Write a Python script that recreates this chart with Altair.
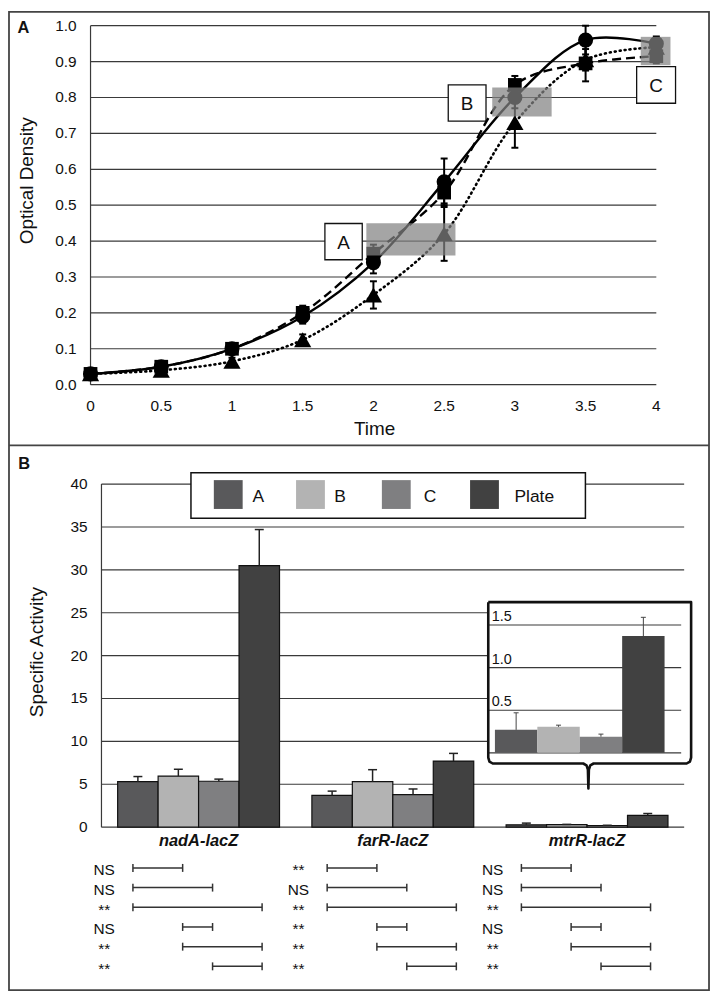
import altair as alt
import pandas as pd

FONT = "Liberation Sans"

# ---------------- Panel A data ----------------
times = [0, 0.5, 1, 1.5, 2, 2.5, 3, 3.5, 4]
series_a = ["Culture 1", "Culture 2", "Culture 3"]
od_1 = [0.03, 0.05, 0.10, 0.19, 0.34, 0.565, 0.80, 0.96, 0.95]
err_1 = [0.005, 0.01, 0.012, 0.02, 0.03, 0.065, 0.03, 0.04, 0.02]
od_2 = [0.03, 0.05, 0.10, 0.20, 0.365, 0.535, 0.835, 0.895, 0.915]
err_2 = [0.005, 0.01, 0.012, 0.02, 0.025, 0.03, 0.025, 0.05, 0.02]
od_3 = [0.03, 0.04, 0.065, 0.125, 0.25, 0.42, 0.73, 0.905, 0.94]
err_3 = [0.005, 0.006, 0.01, 0.015, 0.038, 0.075, 0.07, 0.03, 0.02]

window_names = ["A", "B", "C"]
window_start = [1.95, 2.84, 3.89]
window_end = [2.58, 3.26, 4.10]
window_low = [0.36, 0.747, 0.89]
window_high = [0.45, 0.828, 0.969]

y_ticks_a = [0.0, 0.1, 0.2, 0.3, 0.4, 0.5, 0.6, 0.7, 0.8, 0.9, 1.0]
y_labels_a = ["0.0", "0.1", "0.2", "0.3", "0.4", "0.5", "0.6", "0.7", "0.8", "0.9", "1.0"]
x_ticks_a = [0, 0.5, 1, 1.5, 2, 2.5, 3, 3.5, 4]
x_labels_a = ["0", "0.5", "1", "1.5", "2", "2.5", "3", "3.5", "4"]

# ---------------- Panel B data ----------------
genes = ["nadA-lacZ", "farR-lacZ", "mtrR-lacZ"]
conditions = ["A", "B", "C", "Plate"]
act_A = [5.3, 3.7, 0.27]
err_A = [0.6, 0.5, 0.2]
act_B = [5.95, 5.3, 0.305]
err_B = [0.8, 1.4, 0.02]
act_C = [5.35, 3.8, 0.19]
err_C = [0.25, 0.65, 0.03]
act_P = [30.5, 7.7, 1.37]
err_P = [4.2, 0.9, 0.22]
cond_colors = ["#59595b", "#b3b3b3", "#7f7f81", "#414141"]

y_ticks_b = [0, 5, 10, 15, 20, 25, 30, 35, 40]
inset_ticks = [0, 0.5, 1.0, 1.5]
inset_labels = ["", "0.5", "1.0", "1.5"]

comparisons = [("A", "B"), ("A", "C"), ("A", "Plate"), ("B", "C"), ("B", "Plate"), ("C", "Plate")]
sig_nadA = ["NS", "NS", "**", "NS", "**", "**"]
sig_farR = ["**", "NS", "**", "**", "**", "**"]
sig_mtrR = ["NS", "NS", "**", "NS", "**", "**"]

# ---------------- layout (pixels) ----------------
W, H = 707, 987
A_X = [83, 652]
A_Y = [376, 15]
B_X = [94, 680]
B_Y = [821, 476]
IN_X = [489.7, 660.3]
IN_Y = [746.3, 617.7]
IN_FRAME = (483, 687, 594.7, 757)
ROW_Y = [862, 961]
bracket_offset = {"A": 0.162, "B": 0.418, "C": 0.572, "Plate": 0.827}
label_boxes = {"A": (1.657, 1.921, 0.348, 0.449),
               "B": (2.529, 2.796, 0.734, 0.835),
               "C": (3.861, 4.136, 0.784, 0.886)}

xA = alt.Scale(domain=[0, 4], range=A_X, nice=False, zero=False)
yA = alt.Scale(domain=[0, 1], range=A_Y, nice=False, zero=False)
xBu = alt.Scale(domain=[0, 3], range=B_X, nice=False, zero=False)
yB = alt.Scale(domain=[0, 40], range=B_Y, nice=False, zero=False)
xBand = alt.Scale(domain=genes, range=B_X, paddingInner=0, paddingOuter=0)
xOff = alt.Scale(domain=conditions, paddingInner=0, paddingOuter=0.4)
xIn = alt.Scale(domain=conditions, range=IN_X, paddingInner=0, paddingOuter=0)
yIn = alt.Scale(domain=[0, 1.5], range=IN_Y, nice=False, zero=False)
yRow = alt.Scale(domain=[1, 6], range=ROW_Y, nice=False, zero=False)
cScale = alt.Scale(domain=conditions, range=cond_colors)


def px(field):
    return alt.X(field, scale=None, axis=None)


def py(field):
    return alt.Y(field, scale=None, axis=None)


layers = []

# ================= Panel A =================
gridA = pd.DataFrame({"v": y_ticks_a, "x0": 0, "x1": 4})
layers.append(alt.Chart(gridA).mark_rule(color="#3a3a3a", strokeWidth=1.2).encode(
    x=alt.X("x0:Q", scale=xA, axis=None), x2="x1:Q",
    y=alt.Y("v:Q", scale=yA, axis=None)))
layers.append(alt.Chart(pd.DataFrame({"x": [0], "y0": [0], "y1": [1]})).mark_rule(
    color="#3a3a3a", strokeWidth=1.2).encode(
    x=alt.X("x:Q", scale=xA, axis=None), y=alt.Y("y0:Q", scale=yA, axis=None), y2="y1:Q"))
ylabA = pd.DataFrame({"v": y_ticks_a, "label": y_labels_a, "x": 0})
layers.append(alt.Chart(ylabA).mark_text(font=FONT, fontSize=15.5, align="right", baseline="middle",
                                         dx=-14, color="#111").encode(
    x=alt.X("x:Q", scale=xA, axis=None), y=alt.Y("v:Q", scale=yA, axis=None), text="label:N"))
xlabA = pd.DataFrame({"t": x_ticks_a, "label": x_labels_a})
layers.append(alt.Chart(xlabA).mark_text(font=FONT, fontSize=15.5, align="center", baseline="middle",
                                         color="#111").encode(
    x=alt.X("t:Q", scale=xA, axis=None), y=alt.value(397), text="label:N"))

# label boxes
lb = pd.DataFrame({"name": list(label_boxes.keys()),
                   "t0": [v[0] for v in label_boxes.values()],
                   "t1": [v[1] for v in label_boxes.values()],
                   "o0": [v[2] for v in label_boxes.values()],
                   "o1": [v[3] for v in label_boxes.values()]})
lb["tm"] = (lb.t0 + lb.t1) / 2
lb["om"] = (lb.o0 + lb.o1) / 2
layers.append(alt.Chart(lb).mark_rect(fill="white", stroke="#111", strokeWidth=1.3).encode(
    x=alt.X("t0:Q", scale=xA, axis=None), x2="t1:Q",
    y=alt.Y("o0:Q", scale=yA, axis=None), y2="o1:Q"))
layers.append(alt.Chart(lb).mark_text(font=FONT, fontSize=19, baseline="middle", align="center",
                                      color="#111", dy=1).encode(
    x=alt.X("tm:Q", scale=xA, axis=None), y=alt.Y("om:Q", scale=yA, axis=None), text="name:N"))

rows = []
for name, ods, errs in zip(series_a, [od_1, od_2, od_3], [err_1, err_2, err_3]):
    for t, v, e in zip(times, ods, errs):
        rows.append(dict(series=name, t=t, od=v, lo=v - e, hi=v + e))
dfA = pd.DataFrame(rows)

line_styles = {"Culture 1": dict(strokeWidth=2.4),
               "Culture 2": dict(strokeWidth=2.4, strokeDash=[9, 5]),
               "Culture 3": dict(strokeWidth=2.6, strokeDash=[1, 4], strokeCap="round")}
for s in series_a:
    layers.append(alt.Chart(dfA[dfA.series == s]).mark_line(
        interpolate="catmull-rom", color="black", **line_styles[s]).encode(
        x=alt.X("t:Q", scale=xA, axis=None), y=alt.Y("od:Q", scale=yA, axis=None)))

layers.append(alt.Chart(dfA).mark_rule(color="black", strokeWidth=2).encode(
    x=alt.X("t:Q", scale=xA, axis=None), y=alt.Y("lo:Q", scale=yA, axis=None), y2="hi:Q"))
for f in ["lo", "hi"]:
    layers.append(alt.Chart(dfA).mark_point(shape="M-1,0H1", size=49, filled=False, stroke="black",
                                            strokeWidth=2, opacity=1).encode(
        x=alt.X("t:Q", scale=xA, axis=None), y=alt.Y(f + ":Q", scale=yA, axis=None)))

shapes = {"Culture 3": ("triangle-up", 300), "Culture 2": ("square", 190), "Culture 1": ("circle", 230)}
for s in ["Culture 3", "Culture 2", "Culture 1"]:
    shp, sz = shapes[s]
    layers.append(alt.Chart(dfA[dfA.series == s]).mark_point(
        shape=shp, size=sz, filled=True, color="black", opacity=1).encode(
        x=alt.X("t:Q", scale=xA, axis=None), y=alt.Y("od:Q", scale=yA, axis=None)))

win = pd.DataFrame({"name": window_names, "t0": window_start, "t1": window_end,
                    "o0": window_low, "o1": window_high})
layers.append(alt.Chart(win).mark_rect(color="#828282", opacity=0.72).encode(
    x=alt.X("t0:Q", scale=xA, axis=None), x2="t1:Q",
    y=alt.Y("o0:Q", scale=yA, axis=None), y2="o1:Q"))

# ================= Panel B =================
gridB = pd.DataFrame({"v": y_ticks_b, "x0": 0, "x1": 3})
layers.append(alt.Chart(gridB).mark_rule(color="#3a3a3a", strokeWidth=1.2).encode(
    x=alt.X("x0:Q", scale=xBu, axis=None), x2="x1:Q",
    y=alt.Y("v:Q", scale=yB, axis=None)))
layers.append(alt.Chart(pd.DataFrame({"x": [0], "y0": [0], "y1": [40]})).mark_rule(
    color="#3a3a3a", strokeWidth=1.2).encode(
    x=alt.X("x:Q", scale=xBu, axis=None), y=alt.Y("y0:Q", scale=yB, axis=None), y2="y1:Q"))
layers.append(alt.Chart(gridB.assign(label=[str(v) for v in y_ticks_b])).mark_text(
    font=FONT, fontSize=15.5, align="right", baseline="middle", dx=-14, color="#111").encode(
    x=alt.X("x0:Q", scale=xBu, axis=None), y=alt.Y("v:Q", scale=yB, axis=None), text="label:N"))

# legend (pixel layout)
leg_sq_x = [207, 289.7, 376, 464.7]
leg_lab_x = [246, 328, 418, 509.3]
leg = pd.DataFrame({"cond": conditions, "x0": leg_sq_x, "x1": [v + 29 for v in leg_sq_x],
                    "lx": leg_lab_x, "y0": 472, "y1": 501, "ly": 489})
layers.append(alt.Chart(pd.DataFrame({"x0": [184], "x1": [580.7], "y0": [464.7], "y1": [510.3]})).mark_rect(
    fill="white", stroke="#111", strokeWidth=1.5).encode(
    x=px("x0:Q"), x2="x1:Q", y=py("y0:Q"), y2="y1:Q"))
layers.append(alt.Chart(leg).mark_rect().encode(
    x=px("x0:Q"), x2="x1:Q", y=py("y0:Q"), y2="y1:Q",
    color=alt.Color("cond:N", scale=cScale, legend=None)))
layers.append(alt.Chart(leg).mark_text(font=FONT, fontSize=17.5, align="left", baseline="middle",
                                       color="#111").encode(
    x=px("lx:Q"), y=py("ly:Q"), text="cond:N"))

# inset background
fx0, fx1, fy0, fy1 = IN_FRAME
layers.append(alt.Chart(pd.DataFrame({"x0": [fx0], "x1": [fx1], "y0": [fy0], "y1": [fy1]})).mark_rect(
    fill="white").encode(x=px("x0:Q"), x2="x1:Q", y=py("y0:Q"), y2="y1:Q"))

# main bars
bars_rows = []
for cond, vals, errs in zip(conditions, [act_A, act_B, act_C, act_P], [err_A, err_B, err_C, err_P]):
    for g, v, e in zip(genes, vals, errs):
        bars_rows.append(dict(gene=g, cond=cond, value=v, hi=v + e))
dfB = pd.DataFrame(bars_rows)

enc_x = alt.X("gene:N", scale=xBand, axis=None)
enc_xo = alt.XOffset("cond:N", scale=xOff)
bar_layer = alt.layer(
    alt.Chart(dfB).mark_bar(stroke="#111", strokeWidth=1.2).encode(
        x=enc_x, xOffset=enc_xo, y=alt.Y("value:Q", scale=yB, axis=None),
        color=alt.Color("cond:N", scale=cScale, legend=None)),
    alt.Chart(dfB).mark_rule(color="#222", strokeWidth=1.5).encode(
        x=enc_x, xOffset=enc_xo, y=alt.Y("value:Q", scale=yB, axis=None), y2="hi:Q"),
    alt.Chart(dfB).mark_point(shape="M-1,0H1", size=81, filled=False, stroke="#222",
                              strokeWidth=1.5, opacity=1).encode(
        x=enc_x, xOffset=enc_xo, y=alt.Y("hi:Q", scale=yB, axis=None)),
    alt.Chart(pd.DataFrame({"gene": genes})).mark_text(
        font=FONT, fontSize=16.5, fontWeight="bold", fontStyle="italic", baseline="middle",
        color="#111").encode(x=enc_x, y=alt.value(835), text="gene:N"),
)
layers.append(bar_layer)

# inset
dfIn = dfB[dfB.gene == "mtrR-lacZ"]
gridIn = pd.DataFrame({"v": inset_ticks, "label": inset_labels})
layers.append(alt.Chart(gridIn).mark_rule(color="#3a3a3a", strokeWidth=1.1).encode(
    x=alt.value(fx0), x2=alt.value(677), y=alt.Y("v:Q", scale=yIn, axis=None)))
layers.append(alt.Chart(gridIn).mark_text(font=FONT, fontSize=14.5, align="left", baseline="bottom",
                                          dy=-1, color="#111").encode(
    x=alt.value(fx0 + 3.5), y=alt.Y("v:Q", scale=yIn, axis=None), text="label:N"))
inset_layer = alt.layer(
    alt.Chart(dfIn).mark_bar().encode(
        x=alt.X("cond:N", scale=xIn, axis=None), y=alt.Y("value:Q", scale=yIn, axis=None),
        color=alt.Color("cond:N", scale=cScale, legend=None)),
    alt.Chart(dfIn).mark_rule(color="#444", strokeWidth=1).encode(
        x=alt.X("cond:N", scale=xIn, axis=None), y=alt.Y("value:Q", scale=yIn, axis=None), y2="hi:Q"),
    alt.Chart(dfIn).mark_point(shape="M-1,0H1", size=25, filled=False, stroke="#444",
                               strokeWidth=1, opacity=1).encode(
        x=alt.X("cond:N", scale=xIn, axis=None), y=alt.Y("hi:Q", scale=yIn, axis=None)),
)
layers.append(inset_layer)

# inset frame with brace (pixel layout)
tipx, tipy = 583.7, 782
frame_pts = [(fx0, fy0), (fx0, fy1 - 6), (fx0 + 1.2, fy1 - 2), (fx0 + 4.5, fy1),
             (tipx - 5.2, fy1), (tipx - 1.9, fy1 + 1.8), (tipx - 0.5, fy1 + 6), (tipx, tipy),
             (tipx + 0.5, fy1 + 6), (tipx + 1.9, fy1 + 1.8), (tipx + 5.2, fy1),
             (fx1 - 4.5, fy1), (fx1 - 1.2, fy1 - 2), (fx1, fy1 - 6), (fx1, fy0), (fx0, fy0)]
frame_df = pd.DataFrame({"i": range(len(frame_pts)), "x": [p[0] for p in frame_pts],
                         "y": [p[1] for p in frame_pts]})
layers.append(alt.Chart(frame_df).mark_line(color="#111", strokeWidth=2.6, strokeJoin="round").encode(
    x=px("x:Q"), y=py("y:Q"), order="i:Q"))

# significance brackets
sig_all = {"nadA-lacZ": sig_nadA, "farR-lacZ": sig_farR, "mtrR-lacZ": sig_mtrR}
br_rows, cap_rows = [], []
for gi, g in enumerate(genes):
    for k, (c1, c2) in enumerate(comparisons):
        x0 = gi + bracket_offset[c1]
        x1 = gi + bracket_offset[c2]
        br_rows.append(dict(gene=g, row=k + 1, x0=x0, x1=x1, lx=gi + 0.014, label=sig_all[g][k]))
        cap_rows.append(dict(row=k + 1, x=x0))
        cap_rows.append(dict(row=k + 1, x=x1))
brdf = pd.DataFrame(br_rows)
capdf = pd.DataFrame(cap_rows)
layers.append(alt.Chart(brdf).mark_rule(color="#333", strokeWidth=1.5).encode(
    x=alt.X("x0:Q", scale=xBu, axis=None), x2="x1:Q", y=alt.Y("row:Q", scale=yRow, axis=None)))
layers.append(alt.Chart(capdf).mark_point(shape="M0,-1V1", size=64, filled=False, stroke="#333",
                                          strokeWidth=1.5, opacity=1).encode(
    x=alt.X("x:Q", scale=xBu, axis=None), y=alt.Y("row:Q", scale=yRow, axis=None)))
layers.append(alt.Chart(brdf).mark_text(font=FONT, fontSize=15.5, align="center", baseline="alphabetic",
                                        dy=7.3, color="#111").encode(
    x=alt.X("lx:Q", scale=xBu, axis=None), y=alt.Y("row:Q", scale=yRow, axis=None), text="label:N"))

# ================= decorations =================
titles = pd.DataFrame({"text": ["Optical Density", "Specific Activity"],
                       "x": [19, 29], "y": [171, 645]})
layers.append(alt.Chart(titles).mark_text(font=FONT, fontSize=19, angle=270, align="center",
                                          baseline="middle", color="#111").encode(
    x=px("x:Q"), y=py("y:Q"), text="text:N"))
layers.append(alt.Chart(pd.DataFrame({"text": ["Time"], "x": [368.7], "y": [421]})).mark_text(
    font=FONT, fontSize=19, align="center", baseline="middle", color="#111").encode(
    x=px("x:Q"), y=py("y:Q"), text="text:N"))
layers.append(alt.Chart(pd.DataFrame({"text": ["A", "B"], "x": [9.5, 10.3], "y": [22, 461.3]})).mark_text(
    font=FONT, fontSize=16.5, fontWeight="bold", align="left", baseline="alphabetic", color="#111").encode(
    x=px("x:Q"), y=py("y:Q"), text="text:N"))
layers.append(alt.Chart(pd.DataFrame({"x0": [1], "x1": [705], "y0": [1], "y1": [985]})).mark_rect(
    fill=None, filled=False, stroke="#444", strokeWidth=1.8).encode(
    x=px("x0:Q"), x2="x1:Q", y=py("y0:Q"), y2="y1:Q"))
layers.append(alt.Chart(pd.DataFrame({"x0": [1], "x1": [705], "y": [437]})).mark_rule(
    color="#444", strokeWidth=1.8).encode(x=px("x0:Q"), x2="x1:Q", y=py("y:Q")))

chart = alt.layer(*layers).resolve_scale(x="independent", y="independent").properties(
    width=W, height=H, padding=0, autosize=alt.AutoSizeParams(type="none")
).configure_view(stroke=None)

chart.save("out.html", embed_options={"renderer": "svg", "actions": False})
